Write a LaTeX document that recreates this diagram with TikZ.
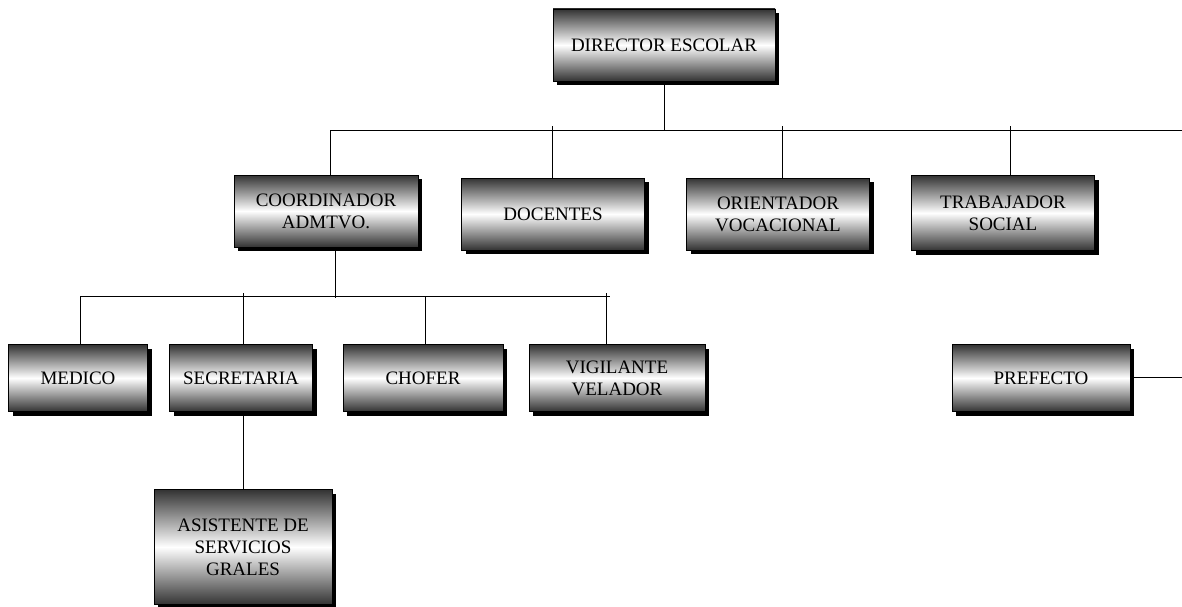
\documentclass[tikz,border=0pt]{standalone}
\usepackage{fontspec}
\setmainfont{Liberation Serif}
\usetikzlibrary{shadows}

\begin{document}
\begin{tikzpicture}[x=1pt,y=-1pt,line width=0.8pt,
	cargo/.style={draw,inner sep=0pt,align=center,font=\fontsize{19}{22}\selectfont,
		top color=black!80,bottom color=black!80,middle color=white,
		drop shadow={shadow xshift=4pt,shadow yshift=-4pt,opacity=1,fill=black}}]
	\useasboundingbox(0,0)rectangle(1182,607);
	% nivel 1
	\node[cargo,minimum width=222,minimum height=72](dir)at(664,45){DIRECTOR ESCOLAR};
	% nivel 2
	\node[cargo,minimum width=184,minimum height=72](coord)at(326,211){COORDINADOR\\ADMTVO.};
	\node[cargo,minimum width=183,minimum height=72](doc)at(553,214){DOCENTES};
	\node[cargo,minimum width=183,minimum height=72](ori)at(778,214){ORIENTADOR\\VOCACIONAL};
	\node[cargo,minimum width=183,minimum height=75](trab)at(1003,213){TRABAJADOR\\SOCIAL};
	\node[cargo,minimum width=178,minimum height=67](pref)at(1041,378){PREFECTO};
	% nivel 3
	\node[cargo,minimum width=139,minimum height=67](med)at(78,378){MEDICO};
	\node[cargo,minimum width=143,minimum height=67](sec)at(241,378){SECRETARIA};
	\node[cargo,minimum width=160,minimum height=67](cho)at(423,378){CHOFER};
	\node[cargo,minimum width=176,minimum height=67](vig)at(617,378){VIGILANTE\\VELADOR};
	\node[cargo,minimum width=178,minimum height=115](asis)at(243,547){ASISTENTE DE\\SERVICIOS\\GRALES};
	% lineas superiores
	\coordinate(b1)at(330,130);
	\coordinate(b1r)at(1182,130);
	\draw(b1)--(b1r);
	\draw(dir)--(dir|-b1);
	\draw(b1)--(b1|-coord.north);
	\coordinate(t2)at(552,126);
	\coordinate(t3)at(782,126);
	\coordinate(t4)at(1010,126);
	\draw(t2)--(t2|-doc.north);
	\draw(t3)--(t3|-ori.north);
	\draw(t4)--(t4|-trab.north);
	\coordinate(pr)at(1182,377);
	\draw(pref.east|-pr)--(pr);
	% lineas del coordinador
	\coordinate(b2)at(80,296);
	\coordinate(b2r)at(610,296);
	\draw(b2)--(b2r);
	\coordinate(c1)at(335,298);
	\draw(c1|-coord.south)--(c1);
	\draw(b2)--(b2|-med.north);
	\coordinate(s1)at(243,293);
	\coordinate(s2)at(425,296);
	\coordinate(s3)at(606,293);
	\draw(s1)--(s1|-sec.north);
	\draw(s2)--(s2|-cho.north);
	\draw(s3)--(s3|-vig.north);
	\draw(s1|-sec.south)--(s1|-asis.north);
\end{tikzpicture}
\end{document}
